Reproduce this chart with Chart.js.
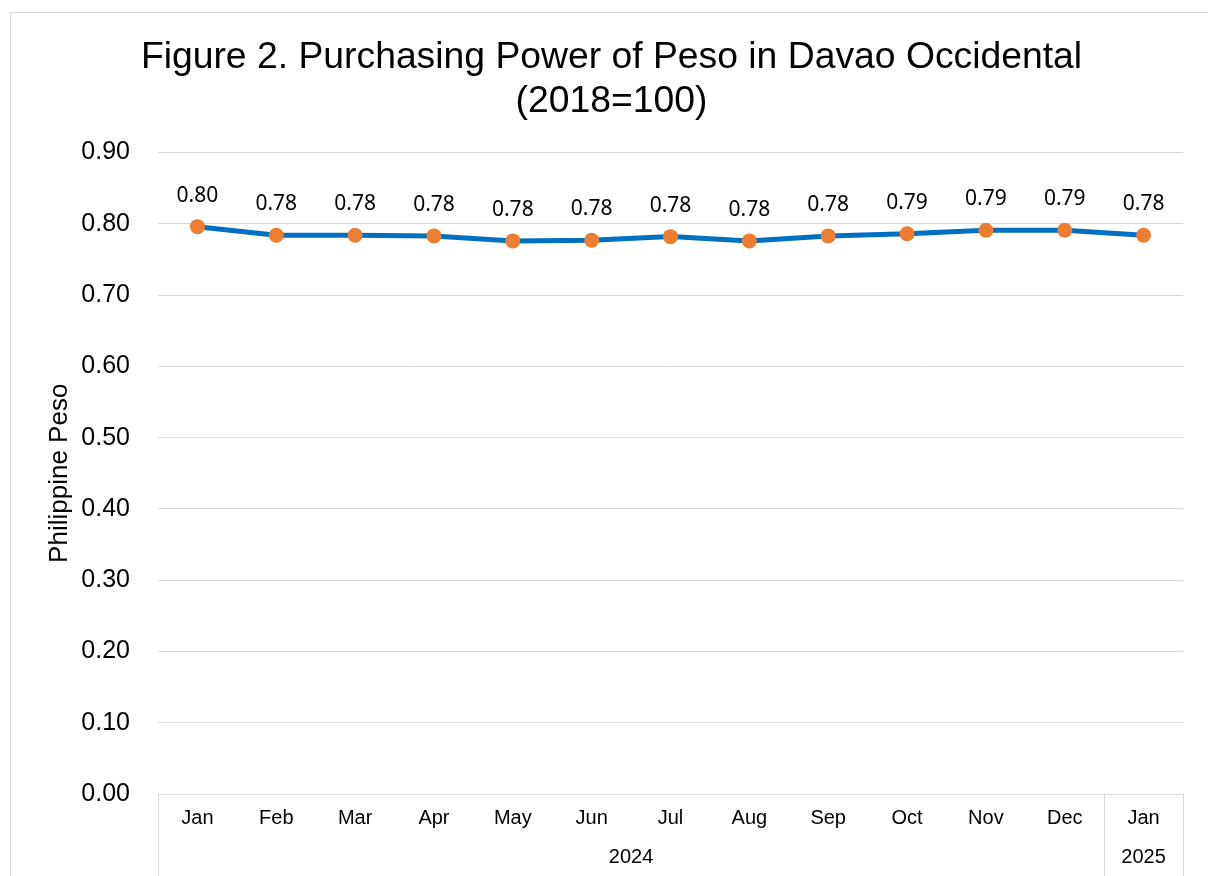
<!DOCTYPE html>
<html>
<head>
<meta charset="utf-8">
<script src="https://cdn.jsdelivr.net/npm/chart.js@4"></script>
<style>
  html, body { margin: 0; padding: 0; background: #fff; overflow: hidden; }
  #frame { position: absolute; left: 10px; top: 12px; width: 1400px; height: 1000px; border: 1px solid #d9d9d9; box-sizing: border-box; }
  #wrap { position: absolute; left: 0; top: 0; width: 1208px; height: 876px; }
</style>
</head>
<body>
<div id="frame"></div>
<div id="wrap"><canvas id="c" width="1208" height="876"></canvas></div>
<script>
const months = ['Jan','Feb','Mar','Apr','May','Jun','Jul','Aug','Sep','Oct','Nov','Dec','Jan'];
const yearLabels = ['2024','2025'];
const yearSpans = [12, 1];
const peso = [0.796, 0.784, 0.784, 0.783, 0.776, 0.777, 0.782, 0.776, 0.783, 0.786, 0.791, 0.791, 0.784];
const yTicks = [0, 0.1, 0.2, 0.3, 0.4, 0.5, 0.6, 0.7, 0.8, 0.9];
const titleLines = ['Figure 2. Purchasing Power of Peso in Davao Occidental', '(2018=100)'];
const yTitle = 'Philippine Peso';

const dataLabels = {
  id: 'dataLabels',
  afterDatasetsDraw(chart) {
    const ctx = chart.ctx;
    const meta = chart.getDatasetMeta(0);
    ctx.save();
    ctx.font = '21px "Noto Sans"';
    ctx.fillStyle = '#000';
    ctx.textAlign = 'center';
    ctx.textBaseline = 'middle';
    meta.data.forEach((pt, i) => {
      ctx.fillText(peso[i].toFixed(2), pt.x, pt.y - 31);
    });
    ctx.restore();
  }
};

const groupAxis = {
  id: 'groupAxis',
  afterDraw(chart) {
    const ctx = chart.ctx;
    const x = chart.scales.x;
    const area = chart.chartArea;
    const half = (x.getPixelForValue(1) - x.getPixelForValue(0)) / 2;
    ctx.save();
    ctx.strokeStyle = '#d9d9d9';
    ctx.lineWidth = 1;
    let start = 0;
    const bounds = [];
    yearSpans.forEach((span) => {
      const l = x.getPixelForValue(start) - half;
      const r = x.getPixelForValue(start + span - 1) + half;
      bounds.push([l, r]);
      start += span;
    });
    const edges = new Set();
    bounds.forEach(([l, r]) => { edges.add(Math.round(l)); edges.add(Math.round(r)); });
    edges.forEach((e) => {
      ctx.beginPath();
      ctx.moveTo(e + 0.5, area.bottom);
      ctx.lineTo(e + 0.5, chart.height);
      ctx.stroke();
    });
    ctx.font = '20px "Liberation Sans"';
    ctx.fillStyle = '#000';
    ctx.textAlign = 'center';
    ctx.textBaseline = 'middle';
    bounds.forEach(([l, r], i) => {
      ctx.fillText(yearLabels[i], (l + r) / 2, area.bottom + 63);
    });
    ctx.restore();
  }
};

new Chart(document.getElementById('c'), {
  type: 'line',
  data: {
    labels: months,
    datasets: [{
      data: peso,
      borderColor: '#0070c0',
      borderWidth: 5,
      backgroundColor: '#ed7d31',
      pointBackgroundColor: '#ed7d31',
      pointBorderColor: '#ed7d31',
      pointBorderWidth: 0,
      pointRadius: 7.5,
      tension: 0,
      fill: false
    }]
  },
  options: {
    responsive: false,
    animation: false,
    events: [],
    layout: { padding: { top: 35, left: 40, right: 25, bottom: 0 } },
    plugins: {
      legend: { display: false },
      tooltip: { enabled: false },
      title: {
        display: true,
        text: titleLines,
        color: '#000',
        font: { family: '"Liberation Sans"', size: 37.3, weight: 'normal', lineHeight: 1.2 },
        padding: { top: 0, bottom: 28 }
      }
    },
    scales: {
      x: {
        type: 'category',
        offset: true,
        grid: { display: false, drawTicks: false },
        border: { display: false },
        ticks: {
          color: '#000',
          font: { family: '"Liberation Sans"', size: 20 },
          padding: 12,
          maxRotation: 0,
          autoSkip: false
        },
        afterFit(scale) { scale.height = 82; }
      },
      y: {
        min: 0,
        max: 0.9,
        afterBuildTicks(scale) { scale.ticks = yTicks.map(v => ({ value: v })); },
        grid: { color: '#d9d9d9', lineWidth: 1, drawTicks: false },
        border: { display: false },
        ticks: {
          color: '#000',
          font: { family: '"Liberation Sans"', size: 25 },
          padding: 28,
          callback: (v) => Number(v).toFixed(2)
        },
        title: {
          display: true,
          text: yTitle,
          color: '#000',
          font: { family: '"Liberation Sans"', size: 26 },
          padding: { top: 4, bottom: 0 }
        },
        afterFit(scale) { scale.width = 118; }
      }
    }
  },
  plugins: [dataLabels, groupAxis]
});
</script>
</body>
</html>
